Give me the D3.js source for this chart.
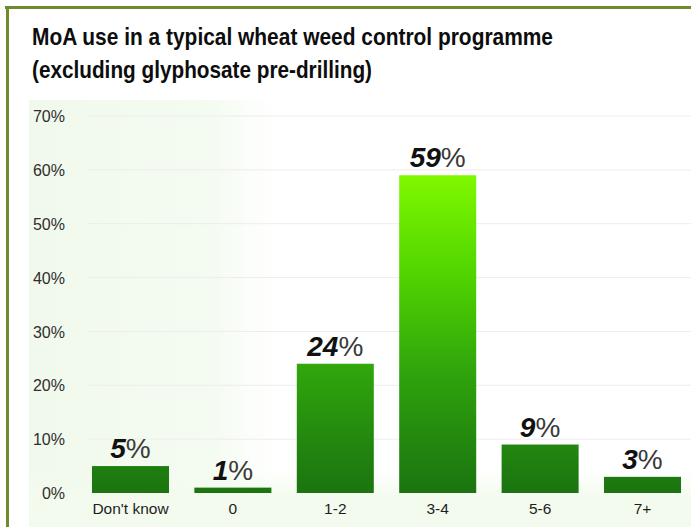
<!DOCTYPE html>
<html>
<head>
<meta charset="utf-8">
<script src="https://cdn.jsdelivr.net/npm/d3@7"></script>
<style>
  html, body { margin: 0; padding: 0; background: #fff; }
  svg { display: block; }
</style>
</head>
<body>
<svg id="chart" width="691" height="527"></svg>
<script>
// Share of respondents by number of modes of action used
const categories = ["Don't know", "0", "1-2", "3-4", "5-6", "7+"];
const shares = [5, 1, 24, 59, 9, 3];
const tickValues = [0, 10, 20, 30, 40, 50, 60, 70];
const titleLines = [
  "MoA use in a typical wheat weed control programme",
  "(excluding glyphosate pre-drilling)"
];
// Set widths for the condensed headline lines
const titleWidths = [521, 340];

const W = 691, H = 527;
const svg = d3.select("#chart");
const defs = svg.append("defs");

// Pale green wash on the left of the plot area, fading to white
const wash = defs.append("linearGradient").attr("id", "wash")
  .attr("x1", 0).attr("x2", 1).attr("y1", 0).attr("y2", 0);
wash.append("stop").attr("offset", 0).attr("stop-color", "#f1f9ed");
wash.append("stop").attr("offset", 0.27).attr("stop-color", "#f4fbf0");
wash.append("stop").attr("offset", 0.37).attr("stop-color", "#ffffff");
wash.append("stop").attr("offset", 1).attr("stop-color", "#ffffff");

const floorWash = defs.append("linearGradient").attr("id", "floorWash")
  .attr("x1", 0).attr("x2", 0).attr("y1", 0).attr("y2", 1);
floorWash.append("stop").attr("offset", 0).attr("stop-color", "#f3fbee").attr("stop-opacity", 0);
floorWash.append("stop").attr("offset", 0.5).attr("stop-color", "#f3fbee").attr("stop-opacity", 1);
floorWash.append("stop").attr("offset", 1).attr("stop-color", "#f3fbee").attr("stop-opacity", 1);

// Scales
const y = d3.scaleLinear().domain([0, 70]).range([493, 116]);
const x = d3.scaleBand().domain(categories).range([80, 693])
  .paddingInner(0.248).paddingOuter(0.117);

// Bar fill: one vertical gradient shared by all bars, lime at the top of the tallest bar
const barGrad = defs.append("linearGradient").attr("id", "barGrad")
  .attr("gradientUnits", "userSpaceOnUse")
  .attr("x1", 0).attr("x2", 0)
  .attr("y1", y(d3.max(shares))).attr("y2", y(0));
[[0, "#80f800"], [0.3, "#52d600"], [0.62, "#2fa40c"], [0.85, "#22860f"], [1, "#1b7410"]]
  .forEach(([o, c]) => barGrad.append("stop").attr("offset", o).attr("stop-color", c));

// Frame: olive rule along the top and left
svg.append("rect").attr("x", 0).attr("y", 0).attr("width", W).attr("height", H).attr("fill", "#fff");
svg.append("line").attr("x1", 5).attr("x2", W).attr("y1", 7.5).attr("y2", 7.5)
  .attr("stroke", "#6e8c2c").attr("stroke-width", 3);
svg.append("line").attr("x1", 7.5).attr("x2", 7.5).attr("y1", 6).attr("y2", H)
  .attr("stroke", "#6e8c2c").attr("stroke-width", 3);

// Title, condensed to fixed line widths
const title = svg.append("g")
  .attr("font-family", "'Liberation Sans', Arial, sans-serif")
  .attr("font-weight", "bold").attr("font-size", 24).attr("fill", "#0d0d0d");
titleLines.forEach((t, i) => {
  title.append("text").attr("x", 32).attr("y", 45 + i * 33)
    .attr("textLength", titleWidths[i]).attr("lengthAdjust", "spacingAndGlyphs")
    .text(t);
});

// Plot background
const plot = svg.append("g");
plot.append("rect").attr("x", 29).attr("y", 100).attr("width", W - 29).attr("height", H - 100)
  .attr("fill", "url(#wash)");
plot.append("rect").attr("x", 29).attr("y", 470).attr("width", W - 29).attr("height", H - 470)
  .attr("fill", "url(#floorWash)");

// Gridlines
plot.append("g").selectAll("line").data(tickValues.filter(d => d > 0)).join("line")
  .attr("x1", 88).attr("x2", W)
  .attr("y1", d => y(d)).attr("y2", d => y(d))
  .attr("stroke", "#ededed").attr("stroke-width", 1);

// Y axis labels
const yAxis = d3.axisLeft(y).tickValues(tickValues).tickFormat(d => d + "%").tickSize(0).tickPadding(0);
const yg = svg.append("g").attr("transform", "translate(65,0)").call(yAxis);
yg.select(".domain").remove();
yg.selectAll("text")
  .attr("font-family", "'Liberation Sans', Arial, sans-serif")
  .attr("font-size", 16).attr("fill", "#2e2e2e").attr("dy", "0.35em");

// Bars
svg.append("g").selectAll("rect").data(shares).join("rect")
  .attr("x", (d, i) => x(categories[i]))
  .attr("width", x.bandwidth())
  .attr("y", d => y(d))
  .attr("height", d => y(0) - y(d))
  .attr("fill", "url(#barGrad)");

// Value labels: bold italic figure with a light percent sign
const labels = svg.append("g").selectAll("text").data(shares).join("text")
  .attr("x", (d, i) => x(categories[i]) + x.bandwidth() / 2)
  .attr("y", d => y(d) - 8)
  .attr("text-anchor", "middle")
  .attr("font-family", "'Liberation Sans', Arial, sans-serif")
  .attr("font-size", 28);
labels.append("tspan").attr("font-weight", "bold").attr("font-style", "italic")
  .attr("fill", "#111").text(d => d);
labels.append("tspan").attr("font-weight", "normal").attr("fill", "#3a3a3a").text("%");

// X axis labels
const xAxis = d3.axisBottom(x).tickSize(0).tickPadding(0);
const xg = svg.append("g").attr("transform", "translate(0,503)").call(xAxis);
xg.select(".domain").remove();
xg.selectAll("text")
  .attr("font-family", "'Liberation Sans', Arial, sans-serif")
  .attr("font-size", 15.5).attr("fill", "#1e1e1e").attr("dy", "0.71em");
</script>
</body>
</html>
